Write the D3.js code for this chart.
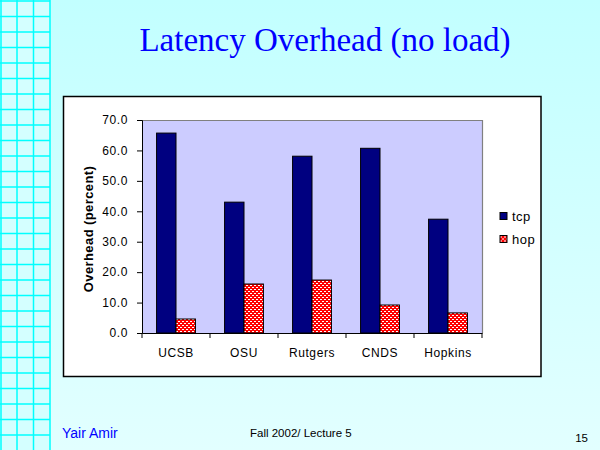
<!DOCTYPE html>
<html>
<head>
<meta charset="utf-8">
<script src="https://cdn.jsdelivr.net/npm/d3@7"></script>
<style>
  body { margin: 0; padding: 0; }
  svg { display: block; }
  .axis text { font-family: Arial, "Liberation Sans", sans-serif; font-size: 12px; fill: #000; letter-spacing: 0.6px; }
</style>
</head>
<body>
<script>
// chart data
var sites = ['UCSB', 'OSU', 'Rutgers', 'CNDS', 'Hopkins'];
var seriesNames = ['tcp', 'hop'];
var tcpValues = [65.7, 43.0, 58.1, 60.7, 37.4];
var hopValues = [4.6, 16.1, 17.4, 9.2, 6.6];
var yTicks = [0, 10, 20, 30, 40, 50, 60, 70];

var rows = sites.map(function(s, i) {
    return { site: s, tcp: tcpValues[i], hop: hopValues[i] };
});

var svg = d3.select('body')
    .append('svg')
    .attr('width', 600)
    .attr('height', 450);

var defs = svg.append('defs');

// slide background gradient
var grad = defs.append('linearGradient')
    .attr('id', 'bg')
    .attr('x1', 0).attr('y1', 0)
    .attr('x2', 0).attr('y2', 1);
grad.append('stop').attr('offset', '0%').attr('stop-color', '#c2ffff');
grad.append('stop').attr('offset', '100%').attr('stop-color', '#e2ffff');

// red dotted fill for hop bars
var pat = defs.append('pattern')
    .attr('id', 'dots')
    .attr('patternUnits', 'userSpaceOnUse')
    .attr('width', 4)
    .attr('height', 4);
pat.append('rect').attr('width', 4).attr('height', 4).attr('fill', '#ff0000');
pat.append('rect').attr('x', 0).attr('y', 1).attr('width', 2).attr('height', 1).attr('fill', '#ffffff');
pat.append('rect').attr('x', 2).attr('y', 3).attr('width', 2).attr('height', 1).attr('fill', '#ffffff');

svg.append('rect')
    .attr('width', 600)
    .attr('height', 450)
    .attr('fill', 'url(#bg)');

// grid strip on the left side of the slide
svg.append('rect')
    .attr('x', 0).attr('y', 0)
    .attr('width', 50).attr('height', 450)
    .attr('fill', '#d4ffff');
var grid = svg.append('g')
    .attr('stroke', '#00ffff')
    .attr('stroke-width', 1.5);
[1, 17, 33.5, 50].forEach(function(gx) {
    grid.append('line').attr('x1', gx).attr('x2', gx).attr('y1', 0).attr('y2', 450);
});
d3.range(1, 450, 15.5).forEach(function(gy) {
    grid.append('line').attr('x1', 0).attr('x2', 50).attr('y1', gy).attr('y2', gy);
});

// title
svg.append('text')
    .attr('x', 325)
    .attr('y', 51)
    .attr('text-anchor', 'middle')
    .style('font-family', '"Times New Roman", "Liberation Serif", serif')
    .style('font-size', '33px')
    .style('fill', '#0000ff')
    .text('Latency Overhead (no load)');

// white chart box
svg.append('rect')
    .attr('x', 63.5)
    .attr('y', 96.5)
    .attr('width', 477.5)
    .attr('height', 280)
    .attr('fill', '#ffffff')
    .attr('stroke', '#000')
    .attr('stroke-width', 1.5);

var plot = { left: 142, right: 482, top: 120, bottom: 333 };

var x = d3.scaleBand()
    .domain(sites)
    .range([plot.left, plot.right]);

var xInner = d3.scaleBand()
    .domain(seriesNames)
    .range([0, x.bandwidth()])
    .paddingOuter(0.75);

var y = d3.scaleLinear()
    .domain([0, 70])
    .range([plot.bottom, plot.top]);

var color = { tcp: '#000080', hop: 'url(#dots)' };

// plot area
svg.append('rect')
    .attr('x', plot.left)
    .attr('y', plot.top)
    .attr('width', plot.right - plot.left)
    .attr('height', plot.bottom - plot.top)
    .attr('fill', '#ccccff');

svg.append('path')
    .attr('d', 'M' + plot.left + ',' + (plot.top + 0.5) + 'H' + (plot.right + 0.5) + 'V' + plot.bottom)
    .attr('fill', 'none')
    .attr('stroke', '#808080')
    .attr('stroke-width', 1.2);

// bars
var groups = svg.selectAll('.group')
    .data(rows)
    .enter()
    .append('g')
    .attr('class', 'group')
    .attr('transform', function(d) { return 'translate(' + x(d.site) + ',0)'; });

groups.selectAll('rect')
    .data(function(d) {
        return seriesNames.map(function(k) { return { key: k, value: d[k] }; });
    })
    .enter()
    .append('rect')
    .attr('x', function(d) { return xInner(d.key); })
    .attr('y', function(d) { return y(d.value); })
    .attr('width', xInner.bandwidth())
    .attr('height', function(d) { return y(0) - y(d.value); })
    .attr('fill', function(d) { return color[d.key]; })
    .attr('stroke', '#000')
    .attr('stroke-width', 1);

// y axis
var yAxis = d3.axisLeft(y)
    .tickValues(yTicks)
    .tickSize(5)
    .tickPadding(9)
    .tickFormat(d3.format('.1f'));

svg.append('g')
    .attr('class', 'axis')
    .attr('transform', 'translate(' + plot.left + ',0)')
    .call(yAxis)
    .call(function(g) { g.selectAll('line, path').attr('stroke', '#000'); });

// x axis: labels at centres, ticks at category edges
var xAxisG = svg.append('g')
    .attr('class', 'axis')
    .attr('transform', 'translate(0,' + plot.bottom + ')')
    .call(d3.axisBottom(x).tickSize(0).tickPadding(15))
    .call(function(g) { g.select('.domain').attr('stroke', '#000'); });

var edges = sites.map(function(s) { return x(s); }).concat([plot.right]);
xAxisG.selectAll('.edge')
    .data(edges)
    .enter()
    .append('line')
    .attr('class', 'edge')
    .attr('x1', function(d) { return d; })
    .attr('x2', function(d) { return d; })
    .attr('y1', 0)
    .attr('y2', 5)
    .attr('stroke', '#000');

// y axis title
svg.append('text')
    .attr('transform', 'translate(93,229) rotate(-90)')
    .attr('text-anchor', 'middle')
    .style('font-family', 'Arial, "Liberation Sans", sans-serif')
    .style('font-size', '13px')
    .style('font-weight', 'bold')
    .style('letter-spacing', '0.4px')
    .text('Overhead (percent)');

// legend
var legend = svg.selectAll('.legend')
    .data(seriesNames)
    .enter()
    .append('g')
    .attr('class', 'legend')
    .attr('transform', function(d, i) { return 'translate(500,' + (212.5 + i * 23) + ')'; });

legend.append('rect')
    .attr('width', 7)
    .attr('height', 7)
    .attr('fill', function(d) { return color[d]; })
    .attr('stroke', '#000')
    .attr('stroke-width', 1);

legend.append('text')
    .attr('x', 12)
    .attr('y', 8)
    .style('font-family', 'Arial, "Liberation Sans", sans-serif')
    .style('font-size', '13px')
    .style('letter-spacing', '0.5px')
    .text(function(d) { return d; });

// footer texts
svg.append('text')
    .attr('x', 62)
    .attr('y', 438)
    .style('font-family', 'Arial, "Liberation Sans", sans-serif')
    .style('font-size', '14px')
    .style('fill', '#0000ff')
    .text('Yair Amir');

svg.append('text')
    .attr('x', 250)
    .attr('y', 437)
    .style('font-family', 'Arial, "Liberation Sans", sans-serif')
    .style('font-size', '11.5px')
    .style('fill', '#000')
    .text('Fall 2002/ Lecture 5');

svg.append('text')
    .attr('x', 588)
    .attr('y', 442)
    .attr('text-anchor', 'end')
    .style('font-family', 'Arial, "Liberation Sans", sans-serif')
    .style('font-size', '11.5px')
    .style('fill', '#000')
    .text('15');
</script>
</body>
</html>
